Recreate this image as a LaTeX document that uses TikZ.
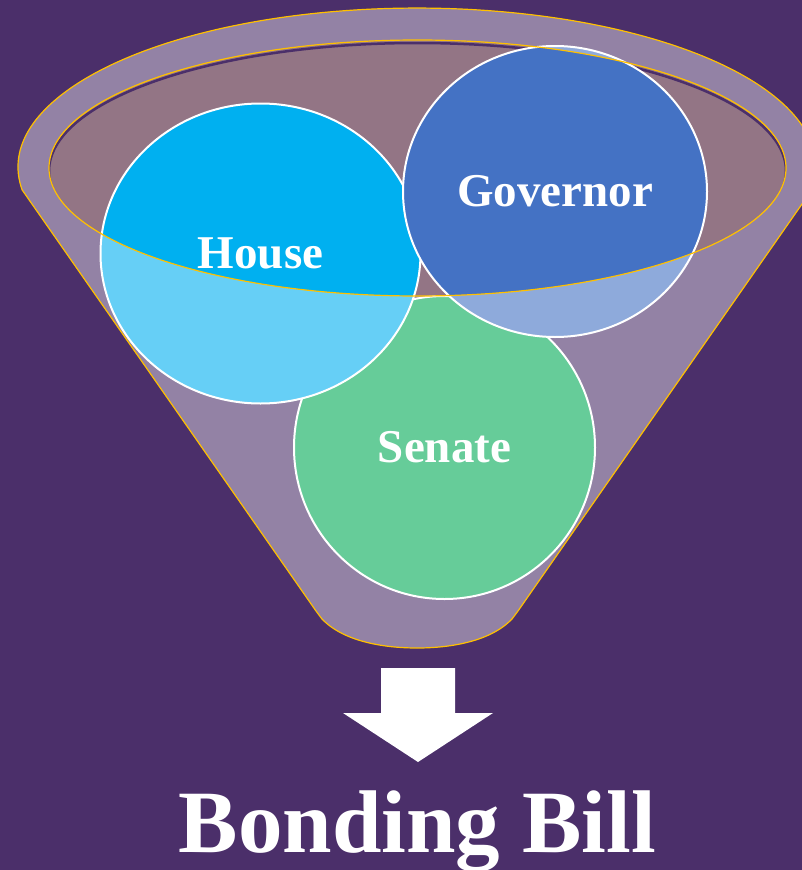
\documentclass[tikz,border=0pt]{standalone}
\usepackage{fontspec}
\setmainfont{Liberation Serif}
\usetikzlibrary{shapes.geometric}
\definecolor{bgPurple}{HTML}{4B2F6A}
\definecolor{rimGold}{HTML}{FFC000}
\definecolor{mouthMauve}{HTML}{937585}
\definecolor{houseBlue}{HTML}{00B0F0}
\definecolor{govBlue}{HTML}{4472C4}
\definecolor{senateGreen}{HTML}{00AA55}

\begin{document}
\begin{tikzpicture}[x=1pt, y=-1pt]
  \tikzset{
    bubble/.style={ellipse, draw=white, line width=2pt, inner sep=0pt, text=white,
      font=\fontsize{47}{56}\selectfont\bfseries},
    rim/.style={draw=rimGold, line width=1.2pt}
  }
  \def\mx{417.5}
  \def\my{168}

  % background
  \fill[bgPurple] (0,0) rectangle (802,870);
  \useasboundingbox (0,0) rectangle (802,870);

  % -------- mouth of the funnel ----------
  \fill[mouthMauve] (\mx,\my) ellipse [x radius=368.5, y radius=128];
  \begin{scope}
    \clip (\mx,\my) ellipse [x radius=368.5, y radius=128];
    \draw[bgPurple, line width=2.5pt] (\mx,\my+3) ellipse [x radius=368.5, y radius=128];
  \end{scope}

  % -------- circles ----------
  \node[bubble, fill=senateGreen, minimum width=301, minimum height=303] (senate) at (444.5,447.5) {Senate};
  \node[bubble, fill=houseBlue, minimum width=320, minimum height=300] (house) at (260.5,253.5) {House};
  \node[bubble, fill=govBlue, minimum width=304, minimum height=291] (governor) at (555,191.5) {Governor};

  % -------- funnel body ----------
  \fill[white, fill opacity=0.4, even odd rule]
    (22.2,190) arc[start angle=171.7, end angle=368.3, x radius=399, y radius=159]
    -- (518,611) -- (512,619) .. controls (489,643) and (446,648) .. (417,648)
    .. controls (388,648) and (345,643) .. (322,619) -- (316,611) -- cycle
    (\mx,\my) ellipse [x radius=368.5, y radius=128];
  \draw[rim]
    (22.2,190) arc[start angle=171.7, end angle=368.3, x radius=399, y radius=159]
    -- (518,611) -- (512,619) .. controls (489,643) and (446,648) .. (417,648)
    .. controls (388,648) and (345,643) .. (322,619) -- (316,611) -- cycle;
  \draw[rim] (\mx,\my) ellipse [x radius=368.5, y radius=128];

  % -------- result ----------
  \fill[white] (381,668) -- (455,668) -- (455,713) -- (493,713) -- (418,762)
    -- (343,713) -- (381,713) -- cycle;
  \node[text=white, font=\fontsize{89}{100}\selectfont\bfseries, anchor=base, inner sep=0pt]
    (bill) at (417.5,852) {Bonding Bill};
\end{tikzpicture}
\end{document}
